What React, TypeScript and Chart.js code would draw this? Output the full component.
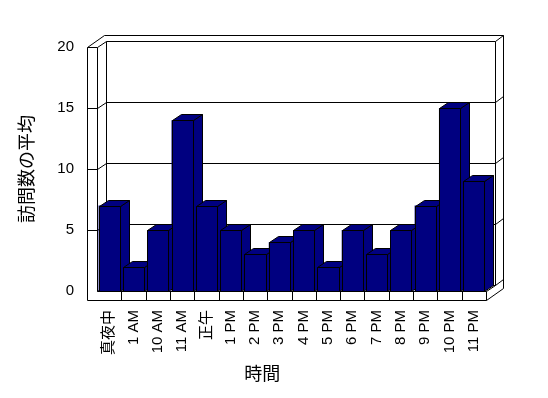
import React, { useEffect, useRef } from "react";
import { Chart, registerables } from "chart.js";

Chart.register(...registerables);

const categories = [
  "真夜中", "1 AM", "10 AM", "11 AM", "正午", "1 PM", "2 PM", "3 PM",
  "4 PM", "5 PM", "6 PM", "7 PM", "8 PM", "9 PM", "10 PM", "11 PM",
];
const visits = [7, 2, 5, 14, 7, 5, 3, 4, 5, 2, 5, 3, 5, 7, 15, 9];
const yTicks = [0, 5, 10, 15, 20];
const yAxisTitle = "訪問数の平均";
const xAxisTitle = "時間";

const FONT = "'Liberation Sans', Arial, 'Noto Sans CJK JP', sans-serif";
const BAR_COLOR = "#000080";
const LINE = "#000000";
const DEPTH = { dx: 9, dy: -6 };
const WALL = { dx: 8, dy: -6 };
const WALL_W = 10;
const FLOOR_H = 9;

const px = (v: number) => Math.round(v) + 0.5;

function seg(ctx: CanvasRenderingContext2D, x1: number, y1: number, x2: number, y2: number) {
  ctx.beginPath();
  ctx.moveTo(px(x1), px(y1));
  ctx.lineTo(px(x2), px(y2));
  ctx.stroke();
}

function poly(ctx: CanvasRenderingContext2D, pts: number[][], fill: string) {
  ctx.beginPath();
  pts.forEach(([x, y], i) => (i ? ctx.lineTo(px(x), px(y)) : ctx.moveTo(px(x), px(y))));
  ctx.closePath();
  ctx.fillStyle = fill;
  ctx.fill();
  ctx.stroke();
}

const frame3d = {
  id: "frame3d",
  beforeDatasetsDraw(chart: any) {
    const { ctx, chartArea: ca, scales } = chart;
    const ys = scales.y;
    const xs = scales.x;
    const L = ca.left;
    const R = ca.right;
    const B = ys.getPixelForValue(ys.min);
    const T = ys.getPixelForValue(ys.max);
    const OL = L - WALL_W;
    const FB = B + FLOOR_H;
    const dx = DEPTH.dx, dy = DEPTH.dy;
    const ox = DEPTH.dx + WALL.dx, oy = DEPTH.dy + WALL.dy;
    ctx.save();
    ctx.strokeStyle = LINE;
    ctx.lineWidth = 1;
    ys.ticks.forEach((t: any) => {
      const yf = ys.getPixelForValue(t.value);
      if (t.value !== ys.min) seg(ctx, OL, yf, L, yf);
      seg(ctx, L, yf, L + dx, yf + dy);
      seg(ctx, L + dx, yf + dy, R + dx, yf + dy);
      seg(ctx, R + dx, yf + dy, R + ox, yf + oy);
    });
    seg(ctx, OL, T, OL, FB);
    seg(ctx, L, T, L, B);
    seg(ctx, OL, T, OL + ox, T + oy);
    seg(ctx, OL + ox, T + oy, R + ox, T + oy);
    seg(ctx, R + ox, T + oy, R + ox, FB + oy);
    seg(ctx, L + dx, T + dy, L + dx, B + dy);
    seg(ctx, R + dx, T + dy, R + dx, B + dy);
    seg(ctx, L, B, R, B);
    seg(ctx, R, B, R + dx, B + dy);
    seg(ctx, R, B, R, FB);
    seg(ctx, OL, FB, R, FB);
    seg(ctx, R, FB, R + ox, FB + oy);
    for (let i = 1; i < categories.length; i++) {
      const bx = (xs.getPixelForValue(i - 1) + xs.getPixelForValue(i)) / 2;
      seg(ctx, bx, B, bx, FB);
    }
    ctx.restore();
  },
  afterDatasetsDraw(chart: any) {
    const { ctx } = chart;
    const dx = DEPTH.dx, dy = DEPTH.dy;
    const meta = chart.getDatasetMeta(0);
    ctx.save();
    ctx.strokeStyle = LINE;
    ctx.lineWidth = 1;
    meta.data.forEach((el: any) => {
      const { x, y, base, width } = el.getProps(["x", "y", "base", "width"], true);
      const l = x - width / 2;
      const r = x + width / 2;
      poly(ctx, [[r, y], [r + dx, y + dy], [r + dx, base + dy], [r, base]], BAR_COLOR);
      poly(ctx, [[l, y], [l + dx, y + dy], [r + dx, y + dy], [r, y]], BAR_COLOR);
      poly(ctx, [[l, y], [r, y], [r, base], [l, base]], BAR_COLOR);
    });
    ctx.restore();
  },
  afterDraw(chart: any) {
    const { ctx, chartArea: ca } = chart;
    ctx.save();
    ctx.fillStyle = "#000";
    ctx.font = `18px ${FONT}`;
    ctx.textAlign = "center";
    ctx.textBaseline = "middle";
    ctx.fillText(xAxisTitle, ca.left + (ca.right - ca.left) * 0.425, ca.bottom + 84);
    ctx.restore();
  },
};

export default function App() {
  const ref = useRef<HTMLCanvasElement | null>(null);
  useEffect(() => {
    if (!ref.current) return;
    Chart.defaults.color = "#000";
    const chart = new Chart(ref.current, {
      type: "bar",
      data: {
        labels: categories,
        datasets: [
          {
            data: visits,
            backgroundColor: BAR_COLOR,
            borderColor: LINE,
            borderWidth: 0,
            barPercentage: 0.87,
            categoryPercentage: 1,
          },
        ],
      },
      options: {
        responsive: false,
        devicePixelRatio: 1,
        animation: false,
        layout: { padding: { top: 47, right: 62, left: 0, bottom: 0 } },
        plugins: { legend: { display: false }, tooltip: { enabled: false } },
        scales: {
          x: {
            grid: { display: false, drawTicks: false },
            border: { display: false },
            ticks: {
              autoSkip: false,
              maxRotation: 90,
              minRotation: 90,
              padding: 19,
              color: "#000",
              font: { family: FONT, size: 15 },
            },
            afterFit: (s: any) => {
              s.height = 107;
            },
          },
          y: {
            min: 0,
            max: 20,
            grid: { display: false, drawTicks: false },
            border: { display: false },
            afterBuildTicks: (s: any) => {
              s.ticks = yTicks.map((v) => ({ value: v }));
            },
            ticks: {
              padding: 23,
              color: "#000",
              font: { family: FONT, size: 15 },
            },
            title: {
              display: true,
              text: yAxisTitle,
              color: "#000",
              font: { family: FONT, size: 18 },
              padding: { top: 17, bottom: 0 },
            },
            afterFit: (s: any) => {
              s.width = 97;
            },
          },
        },
      },
      plugins: [frame3d],
    });
    return () => chart.destroy();
  }, []);
  return (
    <div style={{ position: "fixed", left: 0, top: 0, background: "#fff" }}>
      <canvas ref={ref} width={548} height={398} style={{ display: "block" }} />
    </div>
  );
}
